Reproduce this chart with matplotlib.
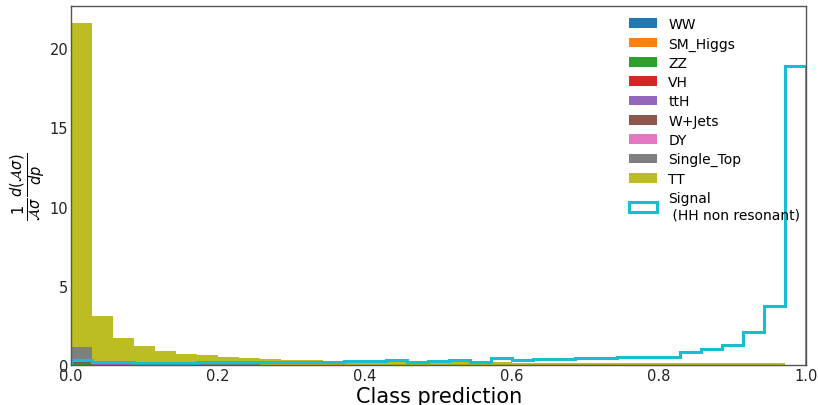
import numpy as np
import matplotlib
matplotlib.use("Agg")
import matplotlib.pyplot as plt

# Classifier output binning
n_bins = 35
bin_edges = np.linspace(0.0, 1.0, n_bins + 1)
bin_centers = 0.5 * (bin_edges[:-1] + bin_edges[1:])

# Background processes (stacked, normalised density contributions per bin)
processes = ["WW", "SM_Higgs", "ZZ", "VH", "ttH", "W+Jets", "DY", "Single_Top", "TT"]

ww = [0.02, 0.01, 0.01, 0.01, 0.01, 0.005, 0.005, 0.005, 0.005, 0.005,
      0.005, 0.005, 0.0, 0.0, 0.0, 0.0, 0.0, 0.0, 0.0, 0.0,
      0.0, 0.0, 0.0, 0.0, 0.0, 0.0, 0.0, 0.0, 0.0, 0.0,
      0.0, 0.0, 0.0, 0.0, 0.0]
sm_higgs = [0.01, 0.005, 0.005, 0.005, 0.0, 0.0, 0.0, 0.0, 0.0, 0.0,
            0.0, 0.0, 0.0, 0.0, 0.0, 0.0, 0.0, 0.0, 0.0, 0.0,
            0.0, 0.0, 0.0, 0.0, 0.0, 0.0, 0.0, 0.0, 0.0, 0.0,
            0.0, 0.0, 0.0, 0.0, 0.0]
zz = [0.01, 0.005, 0.005, 0.0, 0.0, 0.0, 0.0, 0.0, 0.0, 0.0,
      0.0, 0.0, 0.0, 0.0, 0.0, 0.0, 0.0, 0.0, 0.0, 0.0,
      0.0, 0.0, 0.0, 0.0, 0.0, 0.0, 0.0, 0.0, 0.0, 0.0,
      0.0, 0.0, 0.0, 0.0, 0.0]
vh = [0.01, 0.005, 0.005, 0.0, 0.0, 0.0, 0.0, 0.0, 0.0, 0.0,
      0.0, 0.0, 0.0, 0.0, 0.0, 0.0, 0.0, 0.0, 0.0, 0.0,
      0.0, 0.0, 0.0, 0.0, 0.0, 0.0, 0.0, 0.0, 0.0, 0.0,
      0.0, 0.0, 0.0, 0.0, 0.0]
tth = [0.02, 0.01, 0.01, 0.005, 0.005, 0.005, 0.0, 0.0, 0.0, 0.0,
       0.0, 0.0, 0.0, 0.0, 0.0, 0.0, 0.0, 0.0, 0.0, 0.0,
       0.0, 0.0, 0.0, 0.0, 0.0, 0.0, 0.0, 0.0, 0.0, 0.0,
       0.0, 0.0, 0.0, 0.0, 0.0]
w_jets = [0.12, 0.03, 0.02, 0.01, 0.01, 0.01, 0.005, 0.005, 0.005, 0.005,
          0.0, 0.0, 0.0, 0.0, 0.0, 0.0, 0.0, 0.0, 0.0, 0.0,
          0.0, 0.0, 0.0, 0.0, 0.0, 0.0, 0.0, 0.0, 0.0, 0.0,
          0.0, 0.0, 0.0, 0.0, 0.0]
dy = [0.18, 0.06, 0.03, 0.02, 0.01, 0.01, 0.01, 0.005, 0.005, 0.005,
      0.005, 0.0, 0.0, 0.0, 0.0, 0.0, 0.0, 0.0, 0.0, 0.0,
      0.0, 0.0, 0.0, 0.0, 0.0, 0.0, 0.0, 0.0, 0.0, 0.0,
      0.0, 0.0, 0.0, 0.0, 0.0]
single_top = [0.75, 0.14, 0.07, 0.05, 0.03, 0.03, 0.02, 0.02, 0.02, 0.01,
              0.01, 0.01, 0.01, 0.01, 0.01, 0.005, 0.005, 0.005, 0.005, 0.005,
              0.005, 0.005, 0.005, 0.005, 0.0, 0.0, 0.0, 0.0, 0.0, 0.0,
              0.0, 0.0, 0.0, 0.0, 0.0]
tt = [20.44, 2.82, 1.53, 1.1, 0.82, 0.63, 0.57, 0.46, 0.41, 0.37,
      0.32, 0.28, 0.26, 0.23, 0.21, 0.195, 0.185, 0.175, 0.165, 0.155,
      0.155, 0.145, 0.145, 0.135, 0.14, 0.13, 0.13, 0.12, 0.12, 0.11,
      0.11, 0.1, 0.1, 0.1, 0.0]

# Signal: HH non resonant, normalised density per bin
signal = [0.32, 0.22, 0.16, 0.15, 0.15, 0.14, 0.20, 0.17, 0.20, 0.20,
          0.20, 0.22, 0.22, 0.24, 0.26, 0.31, 0.21, 0.23, 0.31, 0.21,
          0.42, 0.31, 0.36, 0.41, 0.45, 0.46, 0.50, 0.52, 0.53, 0.80,
          0.99, 1.26, 2.06, 3.72, 18.9]

bkg_values = [ww, sm_higgs, zz, vh, tth, w_jets, dy, single_top, tt]
bkg_colors = ["tab:blue", "tab:orange", "tab:green", "tab:red", "tab:purple",
              "tab:brown", "tab:pink", "tab:gray", "tab:olive"]

fig = plt.figure(figsize=(8.18, 4.06), dpi=100)
ax = fig.add_axes([0.087, 0.0985, 0.8985, 0.884])

_, _, bkg_patches = ax.hist([bin_centers] * len(processes), bins=bin_edges,
                            weights=[np.asarray(v) for v in bkg_values],
                            stacked=True, histtype="stepfilled",
                            color=bkg_colors, label=processes)
_, _, sig_patches = ax.hist(bin_centers, bins=bin_edges,
                            weights=np.asarray(signal),
                            histtype="step", color="tab:cyan", linewidth=2.2,
                            label="Signal\n (HH non resonant)")

ax.set_xlim(0.0, 1.0)
ax.set_ylim(0.0, 22.65)
ax.set_xticks([0.0, 0.2, 0.4, 0.6, 0.8, 1.0])
ax.set_yticks([0, 5, 10, 15, 20])
ax.tick_params(length=0, labelsize=10.5, colors="#222222", pad=2)

for side in ax.spines.values():
    side.set_color("#555555")
    side.set_linewidth(1.0)

ax.set_xlabel("Class prediction", fontsize=15, labelpad=2)
ax.set_ylabel(r"$\frac{1}{\mathcal{A}\sigma}\frac{d(\mathcal{A}\sigma)}{dp}$",
              fontsize=15, labelpad=0)
ax.yaxis.set_label_coords(-0.031, 0.5)

# Legend in process order, signal last
handles = [p[0] for p in bkg_patches] + [sig_patches[0]]
labels = processes + ["Signal\n (HH non resonant)"]
ax.legend(handles, labels, loc="upper right", frameon=False, fontsize=10,
          labelspacing=0.38, handlelength=2.0, borderaxespad=0.4,
          bbox_to_anchor=(1.007, 1.0))

fig.savefig("out.png", dpi=100)
